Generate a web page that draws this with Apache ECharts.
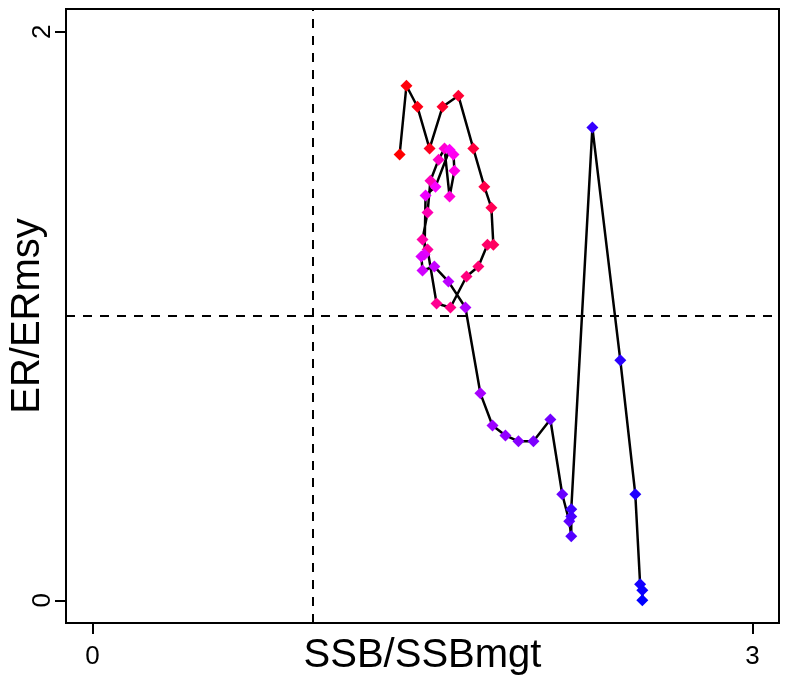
<!DOCTYPE html>
<html lang="en">
<head>
<meta charset="utf-8">
<title>SSB vs ER</title>
<style>
  *{padding:0;margin:0;}
  html,body,#chart{width:790px;height:681px;background:#fff;}
</style>
</head>
<body>
<div id="chart"></div>
<script src="https://cdn.jsdelivr.net/npm/echarts@6/dist/echarts.min.js"></script>
<script>
// SSB/SSBmgt (x) and ER/ERmsy (y), in time order
var ssbRatio = [1.396,1.427,1.477,1.532,1.591,1.663,1.731,1.781,1.813,1.822,
                1.795,1.754,1.700,1.627,1.564,1.523,1.500,1.523,1.536,1.573,
                1.600,1.623,1.645,1.641,1.623,1.559,1.514,1.509,1.495,1.500,
                1.554,1.618,1.695,1.763,1.818,1.877,1.936,2.004,2.081,2.135,
                2.167,2.176,2.176,2.176,2.272,2.399,2.467,2.489,2.499,2.499];
var erRatio  = [1.568,1.810,1.736,1.589,1.736,1.775,1.589,1.455,1.381,1.251,
                1.251,1.174,1.139,1.030,1.044,1.234,1.269,1.364,1.476,1.550,
                1.589,1.420,1.511,1.568,1.585,1.455,1.424,1.216,1.209,1.160,
                1.174,1.121,1.030,0.728,0.615,0.580,0.559,0.559,0.636,0.373,
                0.278,0.225,0.295,0.320,1.663,0.844,0.373,0.056,0.035,0.000];
var xTicks = [0, 3];
var yTicks = [0, 2];
var refX = 1, refY = 1;

// red -> magenta -> blue ramp along time
function rampColor(i, n) {
  var t = i / (n - 1), r, b;
  if (t < 0.5) { r = 255; b = Math.round(255 * t * 2); }
  else { r = Math.round(255 * (1 - (t - 0.5) * 2)); b = 255; }
  return 'rgb(' + r + ',0,' + b + ')';
}

var pts = [];
for (var i = 0; i < ssbRatio.length; i++) {
  pts.push({
    value: [ssbRatio[i], erRatio[i]],
    itemStyle: { color: rampColor(i, ssbRatio.length) }
  });
}

var font = 'Liberation Sans, Arial, Helvetica, sans-serif';
var chart = echarts.init(document.getElementById('chart'));
chart.setOption({
  animation: false,
  backgroundColor: '#fff',
  grid: {
    left: 66, top: 9, width: 713, height: 614,
    outerBoundsMode: 'none', containLabel: false,
    show: true, borderColor: '#000', borderWidth: 2, backgroundColor: 'transparent'
  },
  xAxis: {
    type: 'value', min: -0.12, max: 3.12,
    name: 'SSB/SSBmgt', nameLocation: 'middle', nameGap: 13, nameMoveOverlap: false,
    nameTextStyle: { fontFamily: font, fontSize: 40, color: '#000' },
    axisLine: { show: false, onZero: false },
    splitLine: { show: false },
    axisTick: { show: true, customValues: xTicks, length: 11, lineStyle: { color: '#000', width: 2 } },
    axisLabel: { customValues: xTicks, margin: 21, fontFamily: font, fontSize: 26, color: '#000' }
  },
  yAxis: {
    type: 'value', min: -0.08, max: 2.08,
    name: 'ER/ERmsy', nameLocation: 'middle', nameGap: 18, nameRotate: 90, nameMoveOverlap: false,
    nameTextStyle: { fontFamily: font, fontSize: 40, color: '#000' },
    axisLine: { show: false, onZero: false },
    splitLine: { show: false },
    axisTick: { show: true, customValues: yTicks, length: 11, lineStyle: { color: '#000', width: 2 } },
    axisLabel: { customValues: yTicks, rotate: 90, margin: 10, fontFamily: font, fontSize: 26, color: '#000' }
  },
  series: [{
    type: 'line',
    data: pts,
    symbol: 'diamond',
    symbolSize: 12,
    lineStyle: { color: '#000', width: 2.5 },
    z: 3,
    markLine: {
      silent: true,
      symbol: 'none',
      label: { show: false },
      lineStyle: { color: '#000', type: [9, 8], width: 2 },
      data: [{ xAxis: refX }, { yAxis: refY }]
    }
  }]
});
</script>
</body>
</html>
